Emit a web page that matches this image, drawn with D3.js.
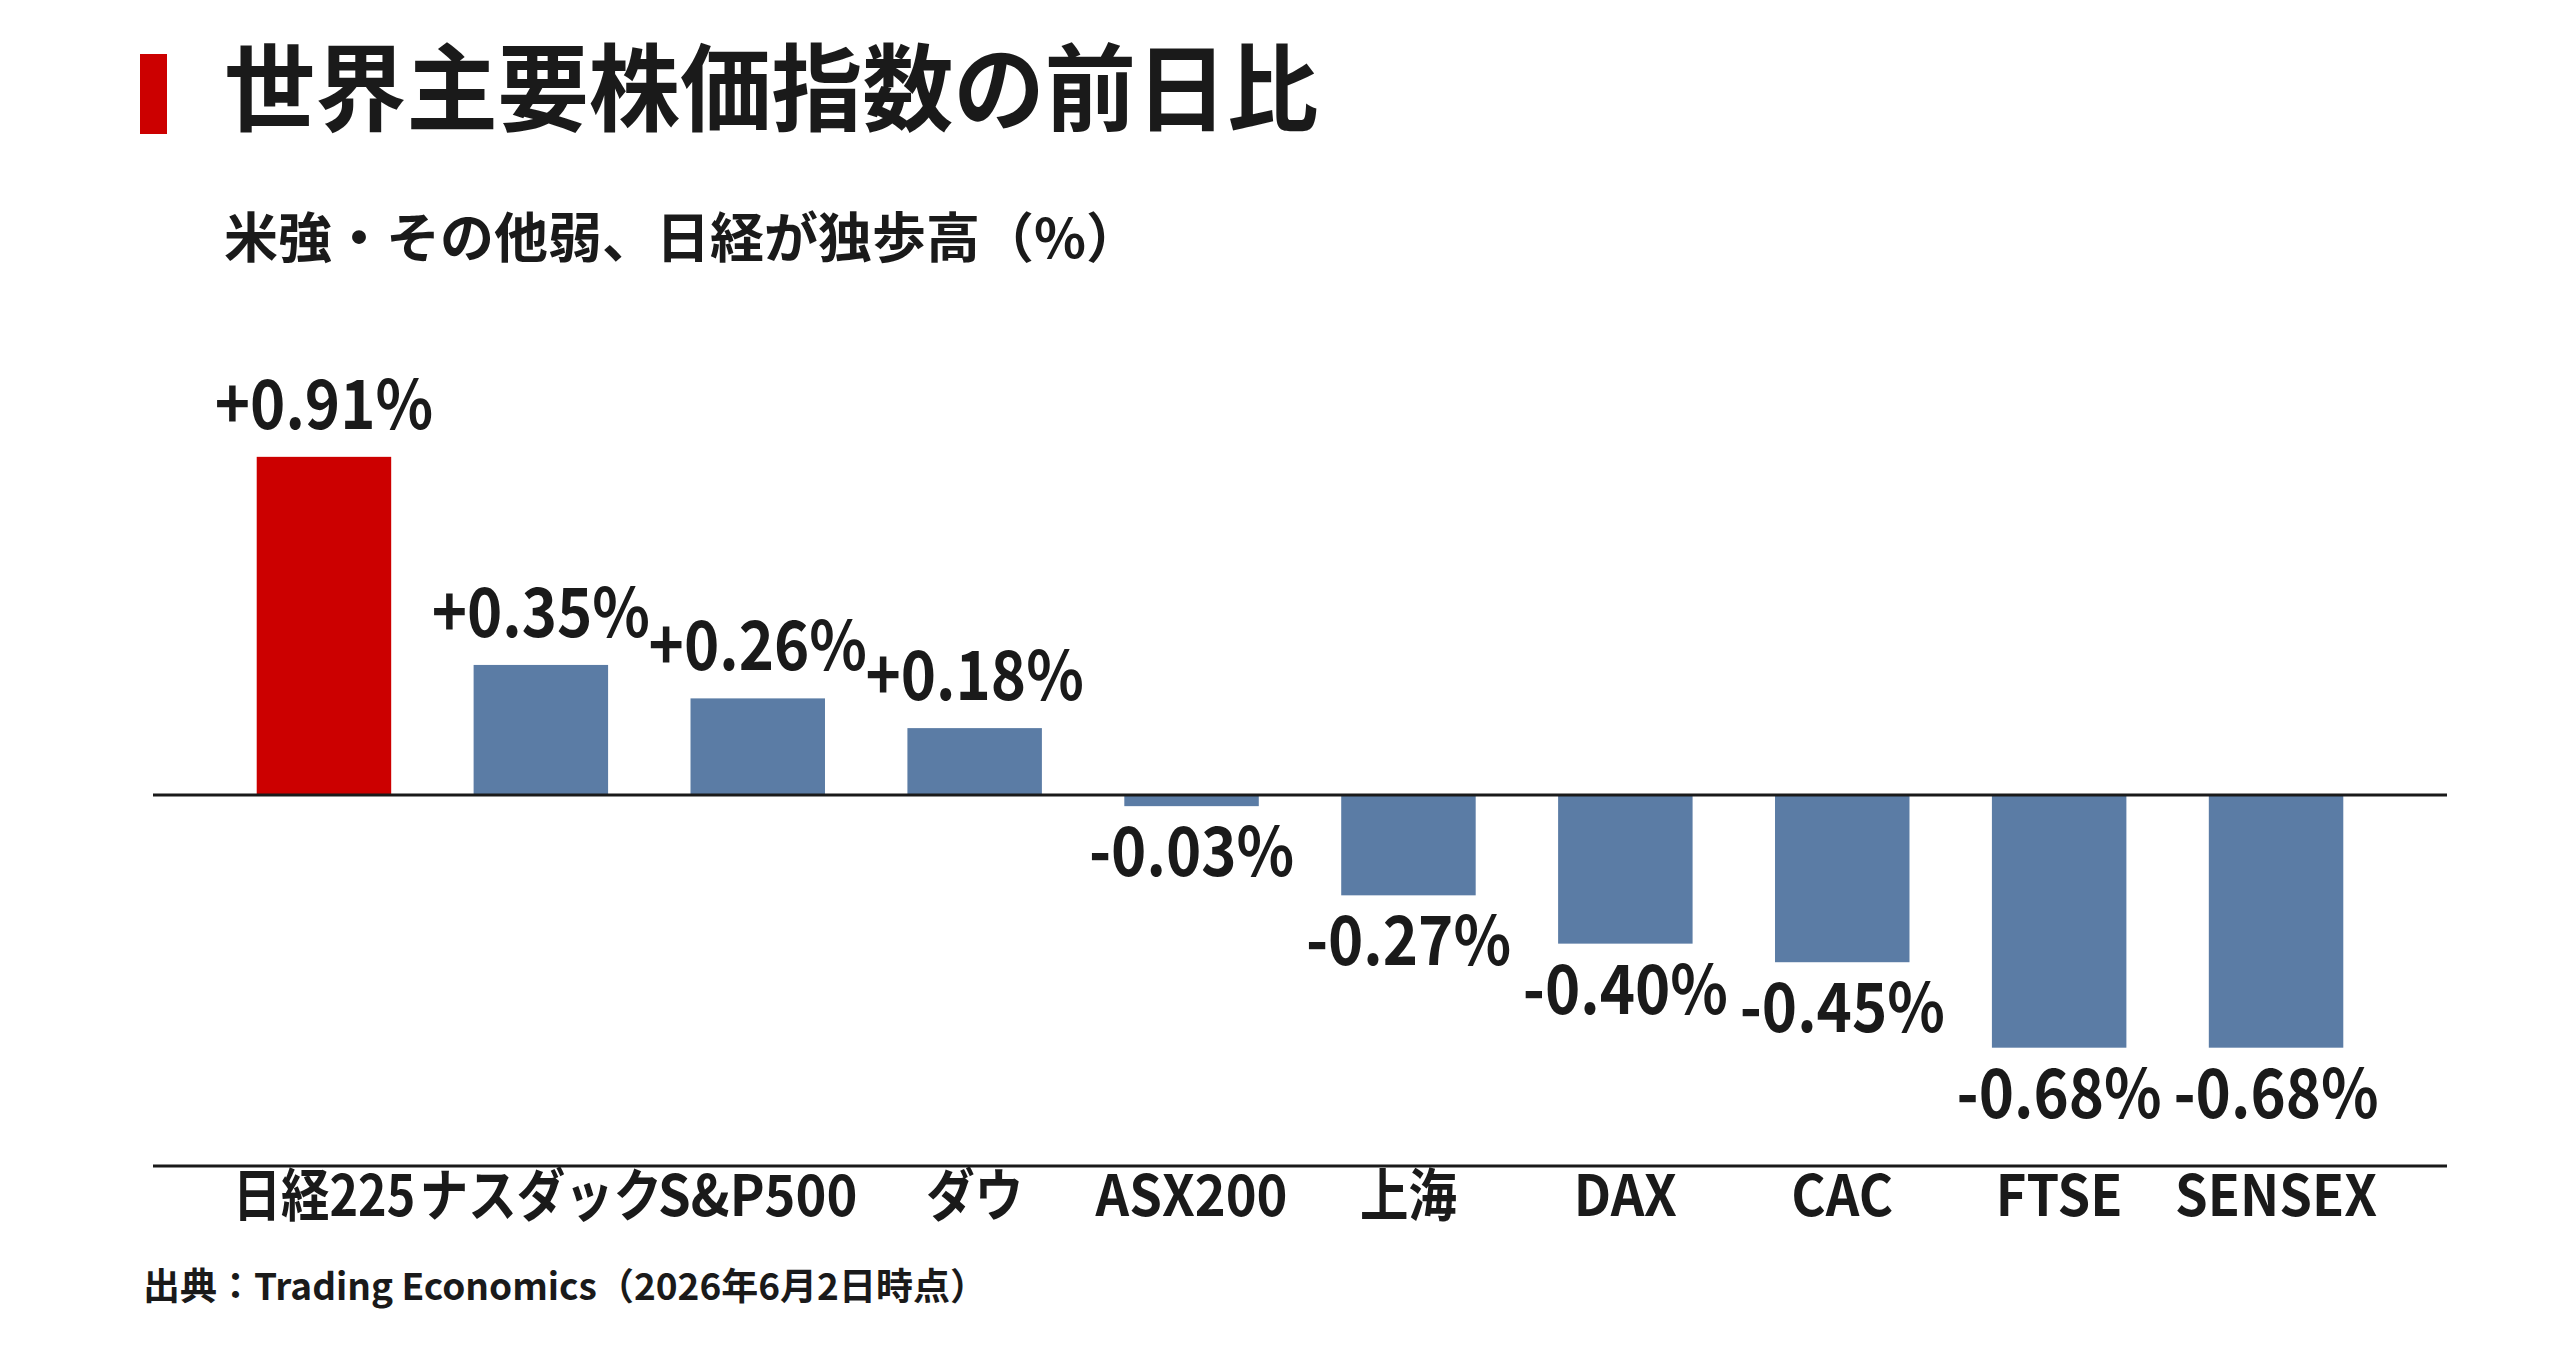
<!DOCTYPE html>
<html>
<head>
<meta charset="utf-8">
<script src="https://cdn.jsdelivr.net/npm/d3@7"></script>
<style>
  body { margin: 0; background: #fff; }
  svg { display: block; }
  text { font-family: "Noto Sans CJK JP", "Noto Sans", sans-serif; font-weight: 700; fill: #1a1a1a; }
</style>
</head>
<body>
<svg id="chart"></svg>
<script>
// data
const indexNames = ["日経225", "ナスダック", "S&P500", "ダウ", "ASX200", "上海", "DAX", "CAC", "FTSE", "SENSEX"];
const changePct = [0.91, 0.35, 0.26, 0.18, -0.03, -0.27, -0.40, -0.45, -0.68, -0.68];
const highlightName = "日経225";

const titleText = "世界主要株価指数の前日比";
const subtitleText = "米強・その他弱、日経が独歩高（%）";
const sourceText = "出典：Trading Economics（2026年6月2日時点）";

// layout
const svgWidth = 2550,
    svgHeight = 1350,
    lineLeft = 153,
    lineRight = 2447,
    zeroY = 795,
    axisY = 1166,
    unitPx = 371.6,   // px per 1%
    barRed = "#cc0000",
    barBlue = "#5b7ca5",
    inkColor = "#1a1a1a";

const svg = d3.select("#chart")
    .attr("width", svgWidth)
    .attr("height", svgHeight);

svg.append("rect")
    .attr("width", svgWidth)
    .attr("height", svgHeight)
    .attr("fill", "#fff");

// scales
const x = d3.scaleBand()
    .domain(indexNames)
    .range([215.5, 2384.5])
    .paddingInner(0.38)
    .paddingOuter(0.19);

const y = d3.scaleLinear()
    .domain([-1, 1])
    .range([zeroY + unitPx, zeroY - unitPx]);

const fmt = d3.formatLocale({ decimal: ".", thousands: ",", grouping: [3], currency: ["", ""], minus: "-" })
    .format("+.2f");

// squeezed text helper (reference type is a bit condensed)
function addText(str, tx, ty, size, sx, anchor) {
    return svg.append("text")
        .attr("transform", `translate(${tx},${ty}) scale(${sx},1)`)
        .attr("font-size", size)
        .attr("text-anchor", anchor || "start")
        .text(str);
}

// title block
svg.append("rect")
    .attr("x", 140)
    .attr("y", 54)
    .attr("width", 27)
    .attr("height", 80)
    .attr("fill", barRed);

addText(titleText, 224, 124, 95, 0.96);
addText(subtitleText, 224, 258, 54, 1);

// bars
svg.selectAll("rect.bar")
    .data(indexNames)
    .join("rect")
    .attr("class", "bar")
    .attr("x", d => x(d))
    .attr("width", x.bandwidth())
    .attr("y", (d, i) => Math.min(y(changePct[i]), y(0)))
    .attr("height", (d, i) => Math.abs(y(changePct[i]) - y(0)))
    .attr("fill", d => d === highlightName ? barRed : barBlue);

// zero line and bottom line
svg.append("line")
    .attr("x1", lineLeft).attr("x2", lineRight)
    .attr("y1", y(0)).attr("y2", y(0))
    .attr("stroke", inkColor)
    .attr("stroke-width", 3);

svg.append("line")
    .attr("x1", lineLeft).attr("x2", lineRight)
    .attr("y1", axisY).attr("y2", axisY)
    .attr("stroke", inkColor)
    .attr("stroke-width", 3);

// value labels
indexNames.forEach((name, i) => {
    const v = changePct[i];
    const cx = x(name) + x.bandwidth() / 2;
    const ty = v >= 0 ? y(v) - 28 : y(v) + 70;
    addText(fmt(v) + "%", cx, ty, 68, 0.88, "middle");
});

// category labels: kana/kanji names are squeezed harder
const hasCJK = s => /[\u3040-\u30ff\u4e00-\u9fff]/.test(s);
indexNames.forEach(name => {
    addText(name, x(name) + x.bandwidth() / 2, 1216, 57, hasCJK(name) ? 0.85 : 0.92, "middle");
});

// source
addText(sourceText, 143, 1300, 37, 1);
</script>
</body>
</html>
